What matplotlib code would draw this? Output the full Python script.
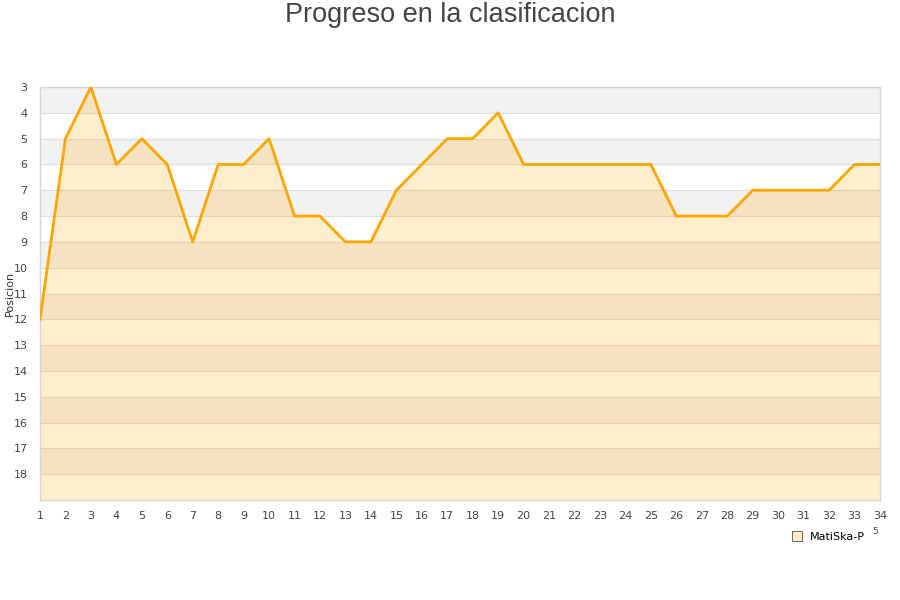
import matplotlib
matplotlib.use("Agg")
from matplotlib import pyplot as plt
from matplotlib.lines import Line2D
import numpy as np

# data
jornadas = list(range(1, 35))
posicion = [12, 5, 3, 6, 5, 6, 9, 6, 6, 5, 8, 8, 9, 9, 7, 6, 5, 5, 4, 6,
            6, 6, 6, 6, 6, 8, 8, 8, 7, 7, 7, 7, 6, 6]
ytick_labels = list(range(3, 19))
jugador = "MatiSka-P"

plt.rcParams["font.family"] = "DejaVu Sans"

fig = plt.figure(figsize=(9, 6), dpi=100)
ax = fig.add_axes([40 / 900, 1 - 500 / 600, 840 / 900, 413 / 600])

# alternating background bands
for k in range(3, 19):
    color = "#f2f2f2" if (k - 3) % 2 == 0 else "white"
    ax.axhspan(k, k + 1, color=color, lw=0, zorder=0)
for k in range(3, 20):
    ax.axhline(k, color="#dedede", lw=0.8, zorder=1)

ax.fill_between(jornadas, posicion, 19, color="#ffa500", alpha=0.2, lw=0, zorder=2)
ax.plot(jornadas, posicion, color="#ffa500", lw=2, zorder=3)

ax.set_xlim(1, 34)
ax.set_ylim(19, 3)
ax.set_xticks(jornadas)
ax.set_yticks(ytick_labels)
ax.tick_params(axis="both", length=0, labelsize=8, colors="#444444")
ax.tick_params(axis="x", pad=8)
ax.tick_params(axis="y", pad=9)
for s in ax.spines.values():
    s.set_color("#d6d6d6")
    s.set_linewidth(1)

ax.set_ylabel("Posicion", fontsize=8, color="#333333")
ax.yaxis.set_label_coords(-0.030, 0.5)

fig.text(0.5, 1 - 15 / 600, "Progreso en la clasificacion", ha="center", va="center",
         fontsize=19.5, color="#444444", family="Liberation Sans")

handle = Line2D([], [], ls="none", marker="s", markersize=6.5,
                markerfacecolor="#ffecc8", markeredgecolor="#555555", markeredgewidth=0.6)
fig.legend([handle], [jugador], loc="center", bbox_to_anchor=(828 / 900, 1 - 537 / 600),
           frameon=False, fontsize=8, handlelength=1, handletextpad=0.6)
fig.text(875 / 900, 1 - 531 / 600, "5", fontsize=6.5, color="#444444", ha="center", va="center")

plt.savefig("out.png", dpi=100)
